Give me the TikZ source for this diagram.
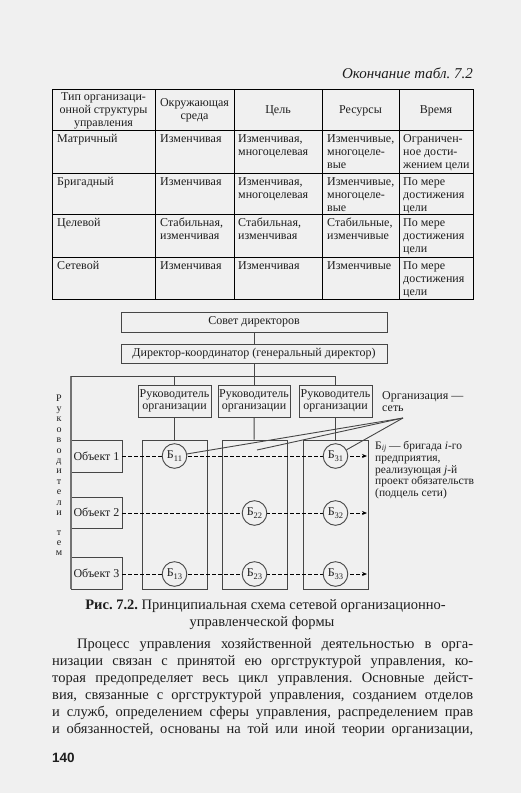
\documentclass[tikz,border=0pt]{standalone}
\usepackage{fontspec}
\setmainfont{Liberation Serif}
\newfontfamily\pgnumfont{Liberation Sans}
\usetikzlibrary{arrows.meta}
\frenchspacing
\definecolor{bg}{RGB}{240,240,240}
\definecolor{ink}{RGB}{30,30,30}
\definecolor{ln}{RGB}{70,70,70}
\definecolor{thickln}{RGB}{115,115,115}
\newcommand{\tabfont}{\fontsize{12}{13}\selectfont}
\newcommand{\dgfont}{\fontsize{12}{12}\selectfont}
\newcommand{\bodyfont}{\fontsize{14.5}{17}\selectfont}
\newcommand{\lowidx}[1]{\raisebox{-2.5pt}{\fontsize{8.5}{8.5}\selectfont #1}}
\newcommand{\lowidxs}[1]{\raisebox{-1.5pt}{\fontsize{8}{8}\selectfont #1}}
\tikzset{
  cell/.style={anchor=north west, inner sep=0, align=left, font=\tabfont, text=ink},
  hcell/.style={anchor=center, inner sep=0, align=center, font=\tabfont, text=ink},
  tabline/.style={draw=black, line width=1pt},
  dbox/.style={draw=ln, line width=0.9pt, inner sep=0, font=\dgfont, text=ink, align=center},
  circ/.style={circle, draw=ln, line width=0.9pt, fill=bg, minimum size=24.6pt, inner sep=0, font=\dgfont, text=ink},
  conn/.style={draw=ln, line width=0.9pt},
  dashline/.style={draw=black, line width=0.8pt, dash pattern=on 3.5pt off 2.5pt, -{Stealth[length=5pt,width=4pt]}},
  bodyline/.style={anchor=base west, inner sep=0, font=\bodyfont, text=ink},
  vletter/.style={anchor=base, inner sep=0, font=\fontsize{10}{10}\selectfont, text=ink}
}
\begin{document}
\begin{tikzpicture}[x=1pt,y=-1pt]
\fill[bg] (0,0) rectangle (521,793);
\useasboundingbox (0,0) rectangle (521,793);

% title
\node[anchor=base east, inner sep=0, font=\fontsize{15}{15}\selectfont\itshape, text=ink] (ttl) at (473,78) {Окончание табл. 7.2};

% table
\draw[tabline] (52,89) rectangle (473,299);
\foreach \yy in {130,173,214,257} \draw[tabline] (52,\yy) -- (473,\yy);
\foreach \xx in {155,234,322,399} \draw[tabline] (\xx,89) -- (\xx,299);

\node[hcell] (h1) at (103.5,110.5) {Тип организаци-\\онной структуры\\управления};
\node[hcell] (h2) at (194.5,110.5) {Окружающая\\среда};
\node[hcell] (h3) at (278,110.5) {Цель};
\node[hcell] (h4) at (360.5,110.5) {Ресурсы};
\node[hcell] (h5) at (436,110.5) {Время};

% row 1
\node[cell] (m1) at (57,133) {\strut Матричный};
\node[cell] (m2) at (160,133) {\strut Изменчивая};
\node[cell] (m3) at (238,133) {\strut Изменчивая,\\многоцелевая};
\node[cell] (m4) at (327,133) {\strut Изменчивые,\\многоцеле-\\вые};
\node[cell] (m5) at (403,133) {\strut Ограничен-\\ное дости-\\жением цели};
% row 2
\node[cell] (g1) at (57,176) {\strut Бригадный};
\node[cell] (g2) at (160,176) {\strut Изменчивая};
\node[cell] (g3) at (238,176) {\strut Изменчивая,\\многоцелевая};
\node[cell] (g4) at (327,176) {\strut Изменчивые,\\многоцеле-\\вые};
\node[cell] (g5) at (403,176) {\strut По мере\\достижения\\цели};
% row 3
\node[cell] (t1) at (57,217) {\strut Целевой};
\node[cell] (t2) at (160,217) {\strut Стабильная,\\изменчивая};
\node[cell] (t3) at (238,217) {\strut Стабильная,\\изменчивая};
\node[cell] (t4) at (327,217) {\strut Стабильные,\\изменчивые};
\node[cell] (t5) at (403,217) {\strut По мере\\достижения\\цели};
% row 4
\node[cell] (s1) at (57,260) {\strut Сетевой};
\node[cell] (s2) at (160,260) {\strut Изменчивая};
\node[cell] (s3) at (238,260) {\strut Изменчивая};
\node[cell] (s4) at (327,260) {\strut Изменчивые};
\node[cell] (s5) at (403,260) {\strut По мере\\достижения\\цели};

% diagram
\node[dbox, minimum width=266pt, minimum height=20pt] (sovet) at (254,322) {Совет директоров};
\node[dbox, minimum width=266pt, minimum height=19pt] (dir) at (254,353.5) {Директор-координатор (генеральный директор)};
\draw[conn] (sovet) -- (dir);

\coordinate (hL) at (71,376);
\coordinate (hR) at (335.5,376);
\coordinate (lb) at (71,589);

\node[dbox, minimum width=73pt, minimum height=32pt] (r1) at (174.5,401) {Руководитель\\организации};
\node[dbox, minimum width=72pt, minimum height=32pt] (r2) at (254,401) {Руководитель\\организации};
\node[dbox, minimum width=73pt, minimum height=32pt] (r3) at (335.5,401) {Руководитель\\организации};

\node[dbox, minimum width=65pt, minimum height=149pt] (c1) at (174.5,514.5) {};
\node[dbox, minimum width=65pt, minimum height=149pt] (c2) at (254.5,514.5) {};
\node[dbox, minimum width=65pt, minimum height=149pt] (c3) at (335.5,514.5) {};

\node[dbox, minimum width=51pt, minimum height=32pt] (o1) at (96.5,456) {Объект 1};
\node[dbox, minimum width=51pt, minimum height=31pt] (o2) at (96.5,512.5) {Объект 2};
\node[dbox, minimum width=51pt, minimum height=32pt] (o3) at (96.5,573) {Объект 3};

\draw[draw=thickln, line width=2pt] (hL) -- (lb);
\draw[conn] (dir) -- (dir |- hL);
\draw[conn] (hL) -- (hR);
\draw[conn] (r1.north) -- (r1.north |- hL);
\draw[conn] (r3.north) -- (r3.north |- hL);
\draw[conn] (r2.north) -- (r2.north |- hL);
\draw[conn] (r1) -- (c1);
\draw[conn] (r2) -- (c2);
\draw[conn] (r3) -- (c3);

\coordinate (e1) at (367,456);
\coordinate (e2) at (367,513);
\coordinate (e3) at (367,574);
\draw[dashline] (o1.east |- e1) -- (e1);
\draw[dashline] (o2.east |- e2) -- (e2);
\draw[dashline] (o3.east |- e3) -- (e3);

\node[circ] (b11) at (174.5,456) {Б\lowidx{11}};
\node[circ] (b31) at (335.5,456) {Б\lowidx{31}};
\node[circ] (b22) at (254.5,513) {Б\lowidx{22}};
\node[circ] (b32) at (335.5,513) {Б\lowidx{32}};
\node[circ] (b13) at (174.5,574) {Б\lowidx{13}};
\node[circ] (b23) at (254.5,574) {Б\lowidx{23}};
\node[circ] (b33) at (335.5,574) {Б\lowidx{33}};

\node[anchor=west, inner sep=0, align=left, font=\dgfont, text=ink] (orgtxt) at (382,401.5) {Организация —\\сеть};
\coordinate (orgpt) at (403,418);
\coordinate (mid2) at (257,450);
\draw[conn] (orgpt) -- (b11);
\draw[conn] (orgpt) -- (mid2);
\draw[conn] (orgpt) -- (b31);

\node[anchor=north west, inner sep=0, align=left, font=\fontsize{11.5}{11.8}\selectfont, text=ink] (note) at (375,441) {\strut Б\lowidxs{\textit{ij}} — бригада \textit{i}-го\\предприятия,\\реализующая \textit{j}-й\\проект обязательств\\(подцель сети)};

% vertical label
\foreach \ch [count=\i] in {Р,у,к,о,в,о,д,и,т,е,л,и}
  \node[vletter] at (59,{401+(\i-1)*10.4}) {\ch};
\node[vletter] (vt1) at (59,535) {т};
\node[vletter] (vt2) at (59,545) {е};
\node[vletter] (vt3) at (59,555) {м};

% caption
\node[anchor=base, inner sep=0, font=\fontsize{14.5}{17}\selectfont, text=ink] (cap1) at (265.5,609) {\textbf{Рис. 7.2.} Принципиальная схема сетевой организационно-};
\node[anchor=base, inner sep=0, font=\fontsize{14.5}{17}\selectfont, text=ink] (cap2) at (262,626) {управленческой формы};

% body
\node[bodyline] (l1) at (77,648.5) {\makebox[396pt][s]{Процесс управления хозяйственной деятельностью в орга-}};
\node[bodyline] (l2) at (52,665.5) {\makebox[421pt][s]{низации связан с принятой ею оргструктурой управления, ко-}};
\node[bodyline] (l3) at (52,682.5) {\makebox[421pt][s]{торая предопределяет весь цикл управления. Основные дейст-}};
\node[bodyline] (l4) at (52,699.5) {\makebox[421pt][s]{вия, связанные с оргструктурой управления, созданием отделов}};
\node[bodyline] (l5) at (52,716.5) {\makebox[421pt][s]{и служб, определением сферы управления, распределением прав}};
\node[bodyline] (l6) at (52,733.5) {\makebox[421pt][s]{и обязанностей, основаны на той или иной теории организации,}};

\node[anchor=base west, inner sep=0, font=\pgnumfont\bfseries\fontsize{13.5}{13.5}\selectfont, text=ink] (pg) at (52,762) {140};
\end{tikzpicture}
\end{document}
